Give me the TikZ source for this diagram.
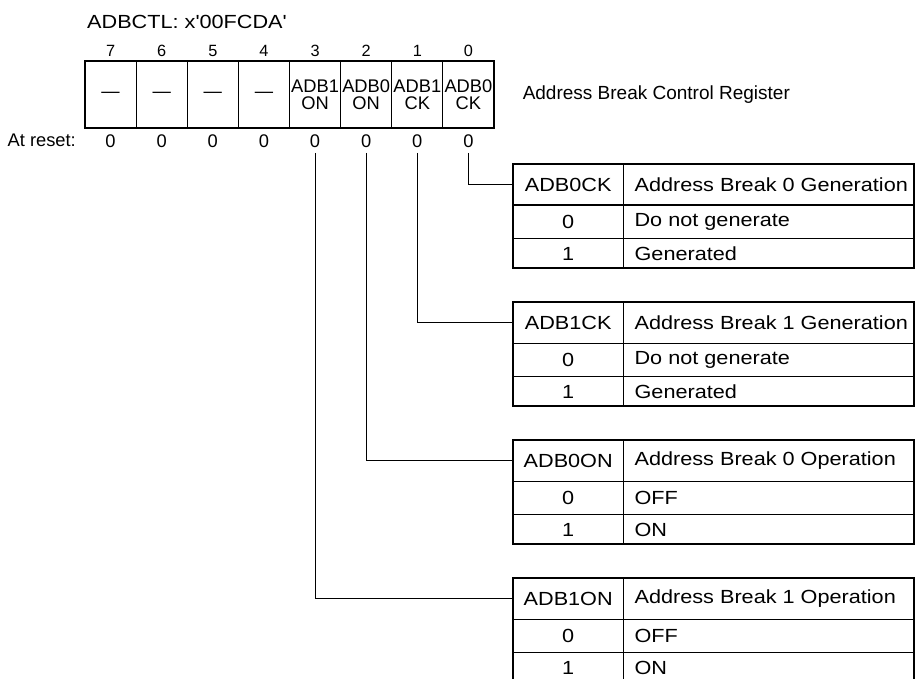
\documentclass[tikz,border=0pt]{standalone}
\usepackage{fontspec}
\setmainfont{Liberation Sans}
\newfontfamily\widefont{Liberation Sans}[FakeStretch=1.14]
\usetikzlibrary{calc, positioning}

\begin{document}
\begin{tikzpicture}[x=1pt,y=-1pt,
  every node/.style={font=\fontsize{18.3}{17}\selectfont, inner sep=0pt},
  regcell/.style={draw, line width=1.1pt, minimum width=51.125pt, minimum height=67pt, align=center},
  bitnum/.style={font=\fontsize{16.3}{18}\selectfont},
  wide/.style={font=\widefont\fontsize{19}{20}\selectfont},
  keycell/.style={wide, minimum width=110pt, anchor=north west},
  desccell/.style={wide, anchor=west},
  frame/.style={line width=1.8pt},
  rule/.style={line width=0.9pt},
  link/.style={line width=0.9pt}]
\useasboundingbox (0,0) rectangle (916,679);
\def\regleft{85}
\def\cellwidth{51.125}
\def\tableleft{513}
\def\tableright{914}
\def\tablegap{138}

\node[wide, anchor=west] (regname) at (87,21.5) {ADBCTL: x'00FCDA'};

\foreach \bit/\field in {7/\textemdash,6/\textemdash,5/\textemdash,4/\textemdash,3/ADB1\\ON,2/ADB0\\ON,1/ADB1\\CK,0/ADB0\\CK} {
  \node[regcell] (cell\bit) at ({\regleft+\cellwidth*(7-\bit)+\cellwidth/2},94.5) {\field};
  \node[bitnum, above=4pt of cell\bit] (num\bit) {\bit};
  \node[below=6pt of cell\bit] (rst\bit) {0};
}

\node[right=28pt of cell0, font=\fontsize{19}{20}\selectfont] (regtitle) {Address Break Control Register};
\node[anchor=east] (resetlbl) at (76,140.5) {At reset:};

\foreach \bit/\key/\what/\zero/\one [count=\t from 0] in {
  0/ADB0CK/Address Break 0 Generation/Do not generate/Generated,
  1/ADB1CK/Address Break 1 Generation/Do not generate/Generated,
  2/ADB0ON/Address Break 0 Operation/OFF/ON,
  3/ADB1ON/Address Break 1 Operation/OFF/ON} {
  \pgfmathsetmacro\tabtop{164+\tablegap*\t}
  \coordinate (tl\t) at (\tableleft,\tabtop);
  \coordinate (tr\t) at (\tableright,\tabtop);
  \node[keycell, minimum height=41pt] (key\t) at (tl\t) {\key};
  \node[keycell, minimum height=33pt] (zkey\t) at (key\t.south west) {0};
  \node[keycell, minimum height=29pt] (okey\t) at (zkey\t.south west) {1};
  \node[desccell] (desc\t) at ([xshift=11pt]key\t.east) {\what};
  \node[desccell] (zdesc\t) at ([xshift=11pt]zkey\t.east) {\zero};
  \node[desccell] (odesc\t) at ([xshift=11pt]okey\t.east) {\one};
  \draw[rule] (key\t.north east) -- (okey\t.south east);
  \draw[rule] (zkey\t.south west) -- (zkey\t.south west -| tr\t);
  \draw[frame] (key\t.south west) -- (key\t.south west -| tr\t);
  \draw[frame] (key\t.north west) rectangle (okey\t.south west -| tr\t);
  \draw[link] ([yshift=-5pt]rst\bit.south) |- (key\t.west);
}
\end{tikzpicture}
\end{document}
